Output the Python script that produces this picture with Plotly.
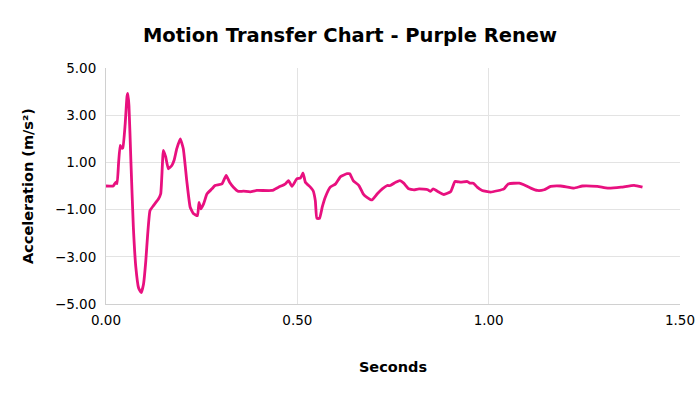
import plotly.graph_objects as go

seconds = [0.000, 0.019, 0.023, 0.026, 0.029, 0.033, 0.037, 0.041, 0.044, 0.050, 0.055, 0.057, 0.060, 0.065,
           0.0715, 0.078, 0.085, 0.092, 0.098, 0.104, 0.109, 0.115, 0.124, 0.137, 0.143, 0.150, 0.156,
           0.163, 0.172, 0.178, 0.185, 0.194, 0.202, 0.211, 0.220, 0.229, 0.239, 0.243, 0.248, 0.255,
           0.264, 0.277, 0.285, 0.303, 0.314, 0.323, 0.333, 0.346, 0.359, 0.377, 0.394, 0.434, 0.451,
           0.469, 0.477, 0.486, 0.499, 0.508, 0.515, 0.521, 0.534, 0.541, 0.547, 0.551, 0.558, 0.565,
           0.573, 0.586, 0.600, 0.613, 0.630, 0.637, 0.646, 0.661, 0.672, 0.682, 0.695, 0.709, 0.722,
           0.735, 0.743, 0.757, 0.768, 0.778, 0.791, 0.805, 0.818, 0.841, 0.848, 0.855, 0.866, 0.883,
           0.901, 0.912, 0.927, 0.944, 0.951, 0.960, 0.970, 0.983, 1.005, 1.040, 1.051, 1.080, 1.092,
           1.110, 1.127, 1.145, 1.162, 1.188, 1.223, 1.245, 1.284, 1.311, 1.346, 1.380, 1.402]
accel = [0.00, 0.00, 0.10, 0.16, 0.10, 1.00, 1.72, 1.60, 1.62, 2.60, 3.80, 3.92, 3.40, 1.09,
         -1.75, -3.45, -4.31, -4.52, -4.16, -3.17, -2.03, -1.04, -0.83, -0.55, -0.33, 1.51, 1.23,
         0.73, 0.87, 1.09, 1.58, 2.00, 1.58, 0.23, -0.90, -1.18, -1.26, -0.69, -0.97, -0.76,
         -0.33, -0.12, 0.02, 0.09, 0.45, 0.16, -0.05, -0.23, -0.22, -0.25, -0.19, -0.19, -0.05,
         0.09, 0.23, -0.02, 0.31, 0.33, 0.55, 0.16, -0.05, -0.19, -0.62, -1.37, -1.37, -0.90,
         -0.48, -0.05, 0.09, 0.40, 0.52, 0.52, 0.23, 0.02, -0.33, -0.48, -0.59, -0.33, -0.12,
         0.02, 0.02, 0.16, 0.23, 0.12, -0.12, -0.16, -0.12, -0.16, -0.23, -0.12, -0.22, -0.36,
         -0.23, 0.19, 0.16, 0.19, 0.12, 0.12, -0.05, -0.19, -0.26, -0.12, 0.09, 0.12, 0.05,
         -0.09, -0.19, -0.16, -0.02, 0.00, -0.09, 0.00, -0.02, -0.09, -0.05, 0.03, -0.05]

title_text = "Motion Transfer Chart - Purple Renew"
x_title = "Seconds"
y_title = "Acceleration (m/s²)"

FONT = "DejaVu Sans, Verdana, sans-serif"

fig = go.Figure(go.Scatter(
    x=seconds, y=accel, mode="lines",
    line=dict(color="#E8107F", width=2.8, shape="spline", smoothing=0.4),
    hoverinfo="x+y",
))

fig.update_layout(
    width=700, height=394,
    margin=dict(l=106, r=20, t=68, b=90),
    paper_bgcolor="white", plot_bgcolor="white",
    showlegend=False,
    title=dict(text=title_text, x=0.5, xanchor="center", y=0.911, yanchor="middle",
               font=dict(family=FONT, size=19.5, color="#000000", weight="bold")),
    font=dict(family=FONT, color="#000000"),
)

fig.update_xaxes(
    range=[0, 1.5], dtick=0.5, tick0=0, tickformat=".2f",
    showgrid=True, gridcolor="#E3E3E3", gridwidth=1,
    zeroline=False, showline=True, linecolor="#D0D0D0", linewidth=1,
    ticks="", ticklabelstandoff=4, automargin=False,
    tickfont=dict(family=FONT, size=13.5, color="#000000"),
    title=dict(text=x_title, font=dict(family=FONT, size=14.5, color="#000000", weight="bold"), standoff=34),
)
fig.update_yaxes(
    range=[-5, 5], dtick=2, tick0=-5, tickformat=".2f",
    showgrid=True, gridcolor="#E3E3E3", gridwidth=1,
    zeroline=False, showline=True, linecolor="#D0D0D0", linewidth=1,
    ticks="", ticklabelstandoff=6, automargin=False,
    tickfont=dict(family=FONT, size=13.5, color="#000000"),
    title=dict(text=y_title, font=dict(family=FONT, size=14.5, color="#000000", weight="bold"), standoff=17),
)

fig.write_html("out.html", config={"displayModeBar": False},
               post_script="document.body.style.margin='0';")
